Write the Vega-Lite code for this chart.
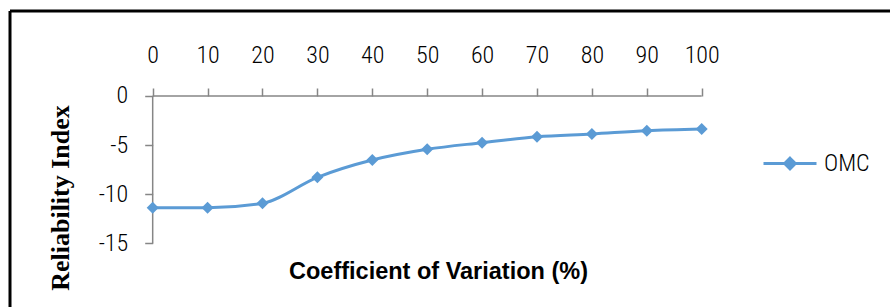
{
  "$schema": "https://vega.github.io/schema/vega-lite/v6.json",
  "width": 880,
  "height": 296,
  "padding": {"left": 10, "top": 11, "right": 0, "bottom": 0},
  "autosize": {"type": "none"},
  "background": "white",
  "config": {
    "view": {"stroke": "#000000", "strokeWidth": 3, "strokeDash": [880, 1176, 296, 0]},
    "axis": {"grid": false}
  },
  "data": {
    "values": [
      {"cv": 0, "ri": -11.36, "series": "OMC"},
      {"cv": 10, "ri": -11.36, "series": "OMC"},
      {"cv": 20, "ri": -10.9, "series": "OMC"},
      {"cv": 30, "ri": -8.27, "series": "OMC"},
      {"cv": 40, "ri": -6.51, "series": "OMC"},
      {"cv": 50, "ri": -5.42, "series": "OMC"},
      {"cv": 60, "ri": -4.75, "series": "OMC"},
      {"cv": 70, "ri": -4.14, "series": "OMC"},
      {"cv": 80, "ri": -3.86, "series": "OMC"},
      {"cv": 90, "ri": -3.53, "series": "OMC"},
      {"cv": 100, "ri": -3.36, "series": "OMC"}
    ]
  },
  "layer": [
    {
      "mark": {"type": "line", "strokeWidth": 3, "interpolate": "monotone"},
      "encoding": {
        "x": {
          "field": "cv", "type": "quantitative",
          "scale": {"domain": [-25.99, 134.3], "nice": false, "zero": false},
          "axis": {
            "orient": "top", "offset": -85,
            "values": [0, 10, 20, 30, 40, 50, 60, 70, 80, 90, 100],
            "domain": false, "grid": false,
            "tickSize": 8, "tickColor": "#868686", "tickWidth": 1.5,
            "labelFont": "Liberation Sans Narrow, Arial Narrow, Roboto Condensed, sans-serif",
            "labelFontSize": 24, "labelFontWeight": 300, "labelColor": "#000000",
            "labelPadding": 26, "labelBaseline": "alphabetic",
            "labelFlush": false, "labelOverlap": false,
            "title": "Coefficient of Variation (%)",
            "titleFont": "Liberation Sans, Arial, sans-serif",
            "titleFontWeight": "bold", "titleFontSize": 23.5, "titleColor": "#000000",
            "titleX": 428, "titleY": 182, "titleBaseline": "alphabetic", "titleAlign": "center"
          }
        },
        "y": {
          "field": "ri", "type": "quantitative",
          "scale": {"domain": [-21.46, 8.644], "nice": false, "zero": false},
          "axis": {
            "orient": "left", "offset": -142.7,
            "values": [0, -5, -10, -15],
            "labelExpr": "'' + datum.value",
            "domain": false, "grid": false,
            "tickSize": 8, "tickColor": "#868686", "tickWidth": 1.5,
            "labelFont": "Liberation Sans Narrow, Arial Narrow, Roboto Condensed, sans-serif",
            "labelFontSize": 24, "labelFontWeight": 300, "labelColor": "#000000",
            "labelPadding": 17, "labelFlush": false, "labelOverlap": false,
            "title": "Reliability Index",
            "titleFont": "Liberation Serif, Times New Roman, serif",
            "titleFontWeight": "bold", "titleFontSize": 26, "titleColor": "#000000",
            "titleAngle": -90, "titleX": -84.7, "titleY": 186.5,
            "titleBaseline": "alphabetic", "titleAlign": "center"
          }
        },
        "color": {
          "field": "series", "type": "nominal",
          "scale": {"range": ["#5B9BD5"]},
          "legend": {
            "orient": "none", "legendX": 752, "legendY": 124.5,
            "title": null, "padding": 0,
            "symbolType": "M-1,0L1,0M0,-0.2L0.2,0L0,0.2L-0.2,0Z",
            "symbolSize": 2809, "symbolStrokeWidth": 3,
            "symbolFillColor": "#5B9BD5", "symbolStrokeColor": "#5B9BD5",
            "labelFont": "Liberation Sans Narrow, Arial Narrow, Roboto Condensed, sans-serif",
            "labelFontSize": 24, "labelFontWeight": 300, "labelColor": "#000000", "labelOffset": 6
          }
        }
      }
    },
    {
      "data": {"values": [{}]},
      "mark": {"type": "rule", "color": "#868686", "strokeWidth": 1.5},
      "encoding": {
        "x": {"datum": 0, "type": "quantitative"},
        "x2": {"datum": 100},
        "y": {"datum": 0, "type": "quantitative"}
      }
    },
    {
      "data": {"values": [{}]},
      "mark": {"type": "rule", "color": "#868686", "strokeWidth": 1.5},
      "encoding": {
        "x": {"datum": 0, "type": "quantitative"},
        "y": {"datum": 0, "type": "quantitative"},
        "y2": {"datum": -15}
      }
    },
    {
      "mark": {"type": "point", "shape": "diamond", "filled": true, "size": 144, "opacity": 1},
      "encoding": {
        "x": {"field": "cv", "type": "quantitative"},
        "y": {"field": "ri", "type": "quantitative"},
        "color": {"field": "series", "type": "nominal"}
      }
    }
  ]
}
